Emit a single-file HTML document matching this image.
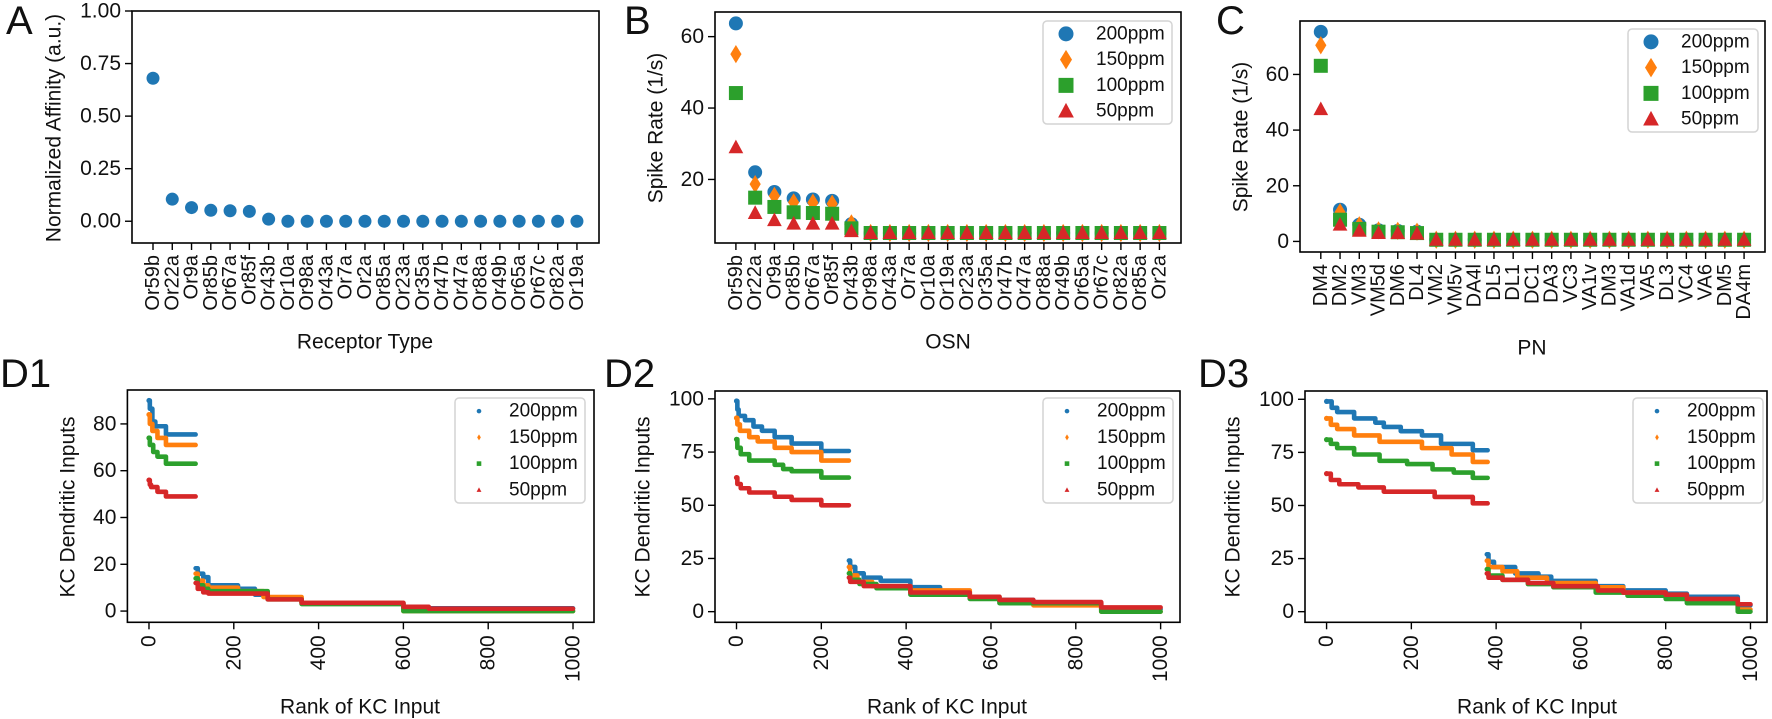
<!DOCTYPE html>
<html><head><meta charset="utf-8"><style>
html,body{margin:0;padding:0;background:#fff}
svg{display:block}
text{font-family:"Liberation Sans",sans-serif;fill:#111}
</style></head><body>
<svg id="fig" width="1772" height="719" viewBox="0 0 1772 719" xmlns="http://www.w3.org/2000/svg"></svg>
<script>
// ---------- Panel A data ----------
const catsA = ["Or59b","Or22a","Or9a","Or85b","Or67a","Or85f","Or43b","Or10a","Or98a","Or43a","Or7a","Or2a","Or85a","Or23a","Or35a","Or47b","Or47a","Or88a","Or49b","Or65a","Or67c","Or82a","Or19a"];
const affinityA = [0.68,0.105,0.065,0.052,0.05,0.047,0.01,0,0,0,0,0,0,0,0,0,0,0,0,0,0,0,0];
const yTicksA = [0,0.25,0.5,0.75,1.0];
const yTickLabelsA = ["0.00","0.25","0.50","0.75","1.00"];
// ---------- Panel B data ----------
const catsB = ["Or59b","Or22a","Or9a","Or85b","Or67a","Or85f","Or43b","Or98a","Or43a","Or7a","Or10a","Or19a","Or23a","Or35a","Or47b","Or47a","Or88a","Or49b","Or65a","Or67c","Or82a","Or85a","Or2a"];
const b200 = [63.7,22,16.5,14.7,14.4,14,7.5,5,5,5,5,5,5,5,5,5,5,5,5,5,5,5,5];
const b150 = [55.1,18.7,15.4,13.6,13.5,13.2,7.7,5,5,5,5,5,5,5,5,5,5,5,5,5,5,5,5];
const b100 = [44.2,14.9,12.3,10.8,10.6,10.4,6.3,5,5,5,5,5,5,5,5,5,5,5,5,5,5,5,5];
const b50  = [29,10.6,8.6,7.6,7.6,7.6,5.5,5,5,5,5,5,5,5,5,5,5,5,5,5,5,5,5];
const yTicksB = [20,40,60];
// ---------- Panel C data ----------
const catsC = ["DM4","DM2","VM3","VM5d","DM6","DL4","VM2","VM5v","DA4l","DL5","DL1","DC1","DA3","VC3","VA1v","DM3","VA1d","VA5","DL3","VC4","VA6","DM5","DA4m"];
const c200 = [75.3,11.4,6,4,3.8,3.5,0.6,0.6,0.6,0.6,0.6,0.6,0.6,0.6,0.6,0.6,0.6,0.6,0.6,0.6,0.6,0.6,0.6];
const c150 = [70.5,10.5,5.8,4,3.8,3.5,0.6,0.6,0.6,0.6,0.6,0.6,0.6,0.6,0.6,0.6,0.6,0.6,0.6,0.6,0.6,0.6,0.6];
const c100 = [63.1,7.8,4.5,3.5,3.3,3,0.6,0.6,0.6,0.6,0.6,0.6,0.6,0.6,0.6,0.6,0.6,0.6,0.6,0.6,0.6,0.6,0.6];
const c50  = [47.5,6,3.8,3,3,2.8,0.6,0.6,0.6,0.6,0.6,0.6,0.6,0.6,0.6,0.6,0.6,0.6,0.6,0.6,0.6,0.6,0.6];
const yTicksC = [0,20,40,60];
// ---------- Panel D data: step segments [startRank, endRank, value] ----------
const d1_200 = [[0,0,90],[2,6,86.5],[8,12,81],[15,40,79],[40,110,75.5],[110,112,18.3],[115,125,16],[128,140,14.5],[140,210,11],[210,250,9.5],[250,280,7],[280,360,5.5],[360,600,3.5],[600,1000,1.2]];
const d1_150 = [[0,0,84],[2,6,80],[8,20,77],[20,40,74],[40,110,71],[110,112,16],[115,125,13],[128,140,11],[140,210,10],[210,270,8.5],[270,360,6],[360,600,3.5],[600,1000,0]];
const d1_100 = [[0,0,74],[2,10,71],[10,20,68],[20,40,66],[40,110,63],[110,112,14],[115,125,11],[128,140,9.5],[140,280,8.5],[280,360,5],[360,600,3],[600,1000,0]];
const d1_50  = [[0,0,56],[2,5,54],[5,20,53],[20,40,51],[40,110,49],[110,112,12],[115,125,9.5],[128,140,8],[140,270,7.5],[280,360,5],[360,600,3.5],[600,660,1.8],[660,1000,1]];
const d2_200 = [[0,0,99],[2,4,95],[5,20,92],[20,40,90],[40,60,87],[60,90,85],[90,130,82],[130,200,79],[200,265,75.5],[265,266,24],[268,280,21],[280,300,18],[300,340,16],[340,400,14.5],[410,480,11.5],[480,550,9.5],[550,620,7],[620,700,5.5],[700,860,4],[860,1000,1.2]];
const d2_150 = [[0,0,91],[2,8,88],[8,30,85],[30,50,82],[50,90,80],[90,130,77],[130,200,75],[200,265,71],[265,266,21],[268,285,17],[285,320,14],[320,400,12],[410,550,10],[550,620,7],[620,700,5],[700,860,3],[860,1000,0]];
const d2_100 = [[0,0,81],[2,10,77],[10,30,74],[30,90,71],[90,110,69],[110,130,67],[130,200,66],[200,265,63],[265,266,18],[268,290,15],[290,330,13],[330,400,11],[410,550,8],[550,620,6],[620,860,4],[860,1000,0]];
const d2_50  = [[0,0,63],[2,10,60],[10,30,58],[30,90,56],[90,125,54],[130,200,52.5],[200,265,50],[265,266,16],[268,300,14],[300,400,12],[410,550,9],[550,620,7],[620,700,5.5],[700,860,4.5],[860,1000,2]];
const d3_200 = [[0,10,99],[12,25,96],[25,65,94],[65,115,91],[115,135,89],[135,175,87],[175,225,85],[225,270,83],[270,345,79],[345,380,76],[378,378,27],[382,395,23.5],[395,445,21],[445,500,18],[500,530,16.5],[530,635,14.5],[635,700,12],[700,800,10],[800,850,8.5],[850,970,7],[970,1000,3]];
const d3_150 = [[0,8,91],[10,25,88],[25,65,86],[65,125,83],[125,225,80],[225,295,77],[295,345,74],[345,380,70.5],[378,380,24],[382,415,21],[415,450,19],[450,520,16],[520,635,13.5],[635,700,11.5],[700,800,9],[800,850,7],[850,970,5],[970,1000,1]];
const d3_100 = [[0,8,81],[10,25,79],[25,65,77],[65,125,74],[125,190,71],[190,250,69.5],[250,300,67],[300,345,65.5],[345,380,63],[378,380,20],[382,415,17],[415,475,15],[475,535,13],[535,635,11.5],[635,710,9],[710,800,7.5],[800,850,6],[850,970,4],[970,1000,0]];
const d3_50  = [[0,8,65],[10,30,62],[30,75,60],[75,135,58.5],[135,255,56.5],[255,345,54],[345,380,51],[378,380,18],[382,415,16],[415,475,15],[475,535,13.5],[535,640,12],[640,700,10],[700,800,9],[800,850,8],[850,970,6],[970,1000,3.5]];
const yTicksD1 = [0,20,40,60,80];
const yTicksD23 = [0,25,50,75,100];
const xTicksD = [0,200,400,600,800,1000];
const legendLabels = ["200ppm","150ppm","100ppm","50ppm"];
const colors = ["#1f77b4","#ff7f0e","#2ca02c","#d62728"];

const NS = "http://www.w3.org/2000/svg";
const svg = document.getElementById("fig");
function mk(tag, attrs, parent){ const e=document.createElementNS(NS,tag); for(const k in attrs) e.setAttribute(k,attrs[k]); (parent||svg).appendChild(e); return e; }
function txt(s, attrs, parent){ const e=mk("text",attrs,parent); e.textContent=s; return e; }
function lin(d0,d1,r0,r1){ return v => r0 + (v-d0)/(d1-d0)*(r1-r0); }

function marker(g, shape, x, y, color, s){
  let e;
  if(shape==="circle"){ e=mk("circle",{cx:x,cy:y,r:s,fill:color},g); }
  else if(shape==="diamond"){ e=mk("polygon",{points:`${x},${y-s*1.3} ${x+s*0.8},${y} ${x},${y+s*1.3} ${x-s*0.8},${y}`,fill:color},g); }
  else if(shape==="square"){ e=mk("rect",{x:x-s,y:y-s,width:2*s,height:2*s,fill:color},g); }
  else { e=mk("polygon",{points:`${x},${y-s*1.1} ${x+s*1.05},${y+s*0.85} ${x-s*1.05},${y+s*0.85}`,fill:color},g); }
  return e;
}
const shapes=["circle","diamond","square","triangle"];

function frame(name,l,r,t,b){
  const f=mk("rect",{x:l,y:t,width:r-l,height:b-t,fill:"none",stroke:"#000","stroke-width":1.6});
  
  
}
function yAxis(name,l,ys,ticks,labels){
  const g=mk("g",{});
  
  
  ticks.forEach((v,i)=>{
    mk("line",{x1:l-7,x2:l,y1:ys(v),y2:ys(v),stroke:"#000","stroke-width":1.4},g);
    const t=txt(labels?labels[i]:String(v),{x:l-11,y:ys(v),"text-anchor":"end","dominant-baseline":"central","font-size":21},g);
    
    
  });
}
function xCatAxis(name,b,xs,cats){
  const g=mk("g",{});
  
  
  cats.forEach((c,i)=>{
    const x=xs(i);
    mk("line",{x1:x,x2:x,y1:b,y2:b+7,stroke:"#000","stroke-width":1.4},g);
    const t=txt(c,{x:0,y:0,"text-anchor":"end","dominant-baseline":"central","font-size":20,transform:`translate(${x},${b+12}) rotate(-90)`},g);
    
    
  });
}
function xNumAxis(name,b,xs,ticks){
  const g=mk("g",{});
  
  
  ticks.forEach(v=>{
    const x=xs(v);
    mk("line",{x1:x,x2:x,y1:b,y2:b+7,stroke:"#000","stroke-width":1.4},g);
    const t=txt(String(v),{x:0,y:0,"text-anchor":"end","dominant-baseline":"central","font-size":21,transform:`translate(${x},${b+13}) rotate(-90)`},g);
    
    
  });
}
function ylabel(name,s,x,y){
  const t=txt(s,{x:0,y:0,"text-anchor":"middle","dominant-baseline":"central","font-size":21,transform:`translate(${x},${y}) rotate(-90)`});
  
  
}
function xlabel(name,s,x,y){
  const t=txt(s,{x:x,y:y,"text-anchor":"middle","dominant-baseline":"central","font-size":21});
  
  
}
function letter(s,x,y){
  const t=txt(s,{x:x,y:y,"font-size":40,"dominant-baseline":"alphabetic"});
  
  
}
function legend(name,l,r,t,b,mx,tx,big){
  const g=mk("g",{});
  
  
  mk("rect",{x:l,y:t,width:r-l,height:b-t,rx:4,fill:"#fff","fill-opacity":0.85,stroke:"#d4d4d4","stroke-width":1.5},g);
  const step=(b-t)/4;
  legendLabels.forEach((lab,i)=>{
    const y=t+step*(i+0.5);
    const e=mk("g",{},g);
    
    
    if(big) marker(e,shapes[i],mx,y,colors[i],7.5);
    else marker(e,shapes[i],mx,y,colors[i],2.3);
    txt(lab,{x:tx,y:y,"dominant-baseline":"central","font-size":19,fill:"#333"},e);
  });
}

// ---------- Panel A ----------
(function(){
  const l=132,r=599,t=11,b=243;
  const xs=i=>153+i*19.27, ys=lin(-0.1035,1.0,b,t);
  frame("panel-a",l,r,t,b);
  const g=mk("g",{});
  
  
  affinityA.forEach((v,i)=>{
    const c=marker(g,"circle",xs(i),ys(v),colors[0],6.5);
    
    
  });
  yAxis("panel-a",l,ys,yTicksA,yTickLabelsA);
  xCatAxis("panel-a",b,xs,catsA);
  ylabel("panel-a","Normalized Affinity (a.u.)",54,128);
  xlabel("panel-a","Receptor Type",365,342);
  letter("A",6,34);
})();

// ---------- Category spike panels ----------
function spikePanel(name,l,r,t,b,ymin,ymax,x0,dx,cats,series,yt){
  const xs=i=>x0+i*dx, ys=lin(ymin,ymax,b,t);
  frame(name,l,r,t,b);
  series.forEach((arr,k)=>{
    const g=mk("g",{});
    
    
    arr.forEach((v,i)=>{
      const m=marker(g,shapes[k],xs(i),ys(v),colors[k],7);
      
      
    });
  });
  yAxis(name,l,ys,yt);
  xCatAxis(name,b,xs,cats);
}
spikePanel("panel-b",715,1181,12,243,2.2,66.9,735.9,19.25,catsB,[b200,b150,b100,b50],yTicksB);
legend("panel-b",1043,1172,21,124,1066,1096,true);
ylabel("panel-b","Spike Rate (1/s)",656,128);
xlabel("panel-b","OSN",948,342);
letter("B",624,34);

spikePanel("panel-c",1300,1765,21,252,-3.8,79.2,1320.8,19.24,catsC,[c200,c150,c100,c50],yTicksC);
legend("panel-c",1628,1758,29,132,1651,1681,true);
ylabel("panel-c","Spike Rate (1/s)",1241,137);
xlabel("panel-c","PN",1532,348);
letter("C",1216,34);

// ---------- D panels ----------
function dPanel(name,l,r,t,b,xmin,xmax,ymin,ymax,series,yt){
  const xs=lin(xmin,xmax,l,r), ys=lin(ymin,ymax,b,t);
  frame(name,l,r,t,b);
  series.forEach((segs,k)=>{
    const g=mk("g",{});
    
    
    let d="";
    segs.forEach((s,i)=>{
      const prev=segs[i-1];
      const contiguous = prev && (s[0]-prev[1]) <= 15 && Math.abs(s[2]-prev[2]) < 20;
      if(contiguous){ d+=` L${xs(s[0])},${ys(prev[2])} L${xs(s[0])},${ys(s[2])} L${xs(s[1])},${ys(s[2])}`; }
      else { d+=` M${xs(s[0])},${ys(s[2])} L${xs(s[1])},${ys(s[2])}`; }
    });
    const p=mk("path",{d:d.trim(),fill:"none",stroke:colors[k],"stroke-width":4.6,"stroke-linecap":"round","stroke-linejoin":"round"},g);
    
    
    const first=segs[0];
    const dot=mk("circle",{cx:xs(first[0]),cy:ys(first[2]),r:2.6,fill:colors[k]},g);
    
    
  });
  yAxis(name,l,ys,yt);
  xNumAxis(name,b,xs,xTicksD);
}
dPanel("panel-d1",127.4,594,390,622.3,-50.9,1049.5,-4.8,94.5,[d1_200,d1_150,d1_100,d1_50],yTicksD1);
legend("panel-d1",455,585,398,503,479,509,false);
ylabel("panel-d1","KC Dendritic Inputs",68,507);
xlabel("panel-d1","Rank of KC Input",360,707);
letter("D1",0,387);

dPanel("panel-d2",715,1180,391,622.3,-50.7,1045.7,-5,103.7,[d2_200,d2_150,d2_100,d2_50],yTicksD23);
legend("panel-d2",1043,1173,398,503,1067,1097,false);
ylabel("panel-d2","KC Dendritic Inputs",643,507);
xlabel("panel-d2","Rank of KC Input",947,707);
letter("D2",604,387);

dPanel("panel-d3",1305,1767,391,622.3,-50.9,1039,-5,103.9,[d3_200,d3_150,d3_100,d3_50],yTicksD23);
legend("panel-d3",1633,1763,398,503,1657,1687,false);
ylabel("panel-d3","KC Dendritic Inputs",1233,507);
xlabel("panel-d3","Rank of KC Input",1537,707);
letter("D3",1198,387);
</script>
</body></html>
